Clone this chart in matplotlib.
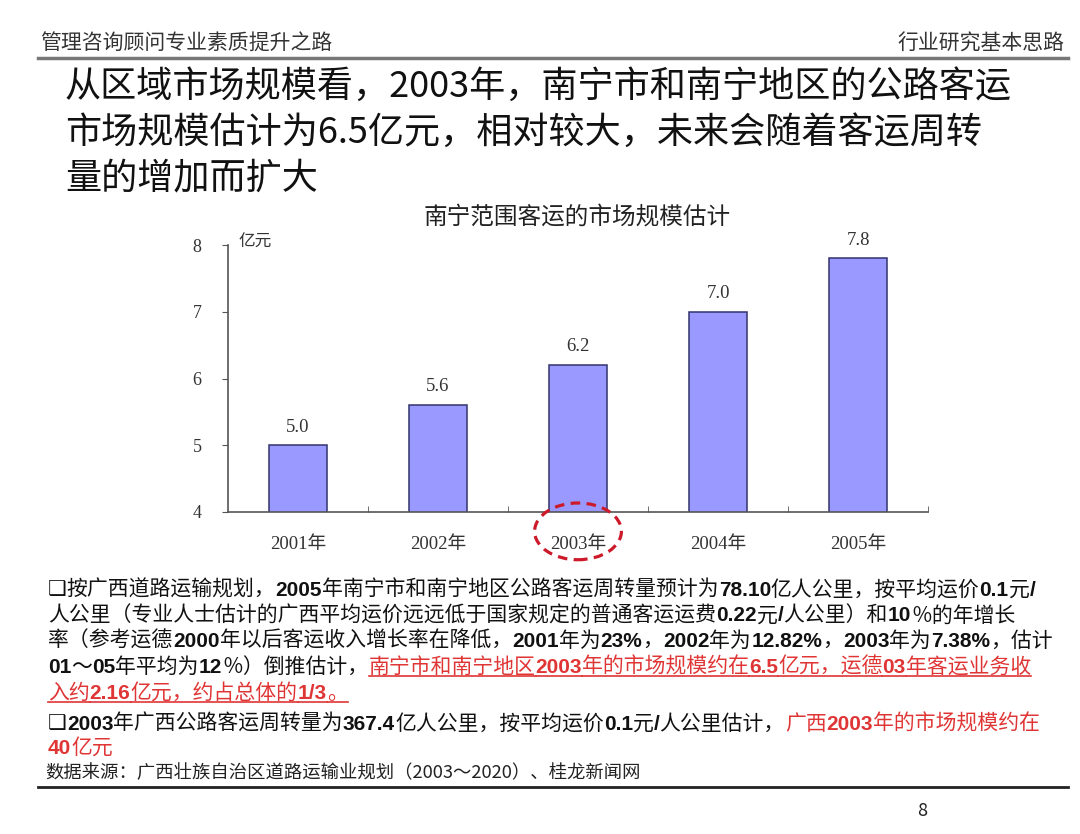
import matplotlib
matplotlib.use("Agg")
import matplotlib.pyplot as plt
from matplotlib.patches import Ellipse
from matplotlib.lines import Line2D

plt.rcParams['font.family'] = ['Noto Sans CJK SC', 'DejaVu Sans']

# data
years = ['2001年', '2002年', '2003年', '2004年', '2005年']
values = [5.0, 5.6, 6.2, 7.0, 7.8]
y_ticks = [4, 5, 6, 7, 8]

header_left = '管理咨询顾问专业素质提升之路'
header_right = '行业研究基本思路'
title_lines = ['从区域市场规模看，2003年，南宁市和南宁地区的公路客运',
               '市场规模估计为6.5亿元，相对较大，未来会随着客运周转',
               '量的增加而扩大']
chart_title = '南宁范围客运的市场规模估计'
unit = '亿元'
source = '数据来源：广西壮族自治区道路运输业规划（2003～2020）、桂龙新闻网'
page_no = '8'

# text runs: (text, style) ; n=normal, b=bold number, r=red, u=underline, box=bullet
bullet1 = [
    [('❑', 'box'), ('按广西道路运输规划，', 'n'), ('2005', 'b'), ('年南宁市和南宁地区公路客运周转量预计为', 'n'),
     ('78.10', 'b'), ('亿人公里，按平均运价', 'n'), ('0.1', 'b'), ('元', 'n'), ('/', 'b')],
    [('人公里（专业人士估计的广西平均运价远远低于国家规定的普通客运运费', 'n'), ('0.22', 'b'), ('元', 'n'),
     ('/', 'b'), ('人公里）和', 'n'), ('10', 'b'), ('％的年增长', 'n')],
    [('率（参考运德', 'n'), ('2000', 'b'), ('年以后客运收入增长率在降低，', 'n'), ('2001', 'b'), ('年为', 'n'),
     ('23%', 'b'), ('，', 'n'), ('2002', 'b'), ('年为', 'n'), ('12.82%', 'b'), ('，', 'n'), ('2003', 'b'),
     ('年为', 'n'), ('7.38%', 'b'), ('，估计', 'n')],
    [('01', 'b'), ('～', 'n'), ('05', 'b'), ('年平均为', 'n'), ('12', 'b'), ('％）倒推估计，', 'n'),
     ('南宁市和南宁地区', 'ru'), ('2003', 'rbu'), ('年的市场规模约在', 'ru'), ('6.5', 'rbu'),
     ('亿元，运德', 'ru'), ('03', 'rbu'), ('年客运业务收', 'ru')],
    [('入约', 'ru'), ('2.16', 'rbu'), ('亿元，约占总体的', 'ru'), ('1/3', 'rbu'), ('。', 'ru')],
]
bullet2 = [
    [('❑', 'box'), ('2003', 'b'), ('年广西公路客运周转量为', 'n'), ('367.4', 'b'), ('亿人公里，按平均运价', 'n'),
     ('0.1', 'b'), ('元', 'n'), ('/', 'b'), ('人公里估计，', 'n'), ('广西', 'r'), ('2003', 'rb'),
     ('年的市场规模约在', 'r')],
    [('40', 'rb'), ('亿元', 'r')],
]

W, H = 1080, 834
RED = '#E03535'
BLACK = '#111111'
SERIF = ['Liberation Serif', 'Noto Sans CJK SC']
NUM = ['Liberation Sans Narrow', 'Liberation Sans', 'Noto Sans CJK SC']

fig = plt.figure(figsize=(W / 100, H / 100), dpi=100)
renderer = fig.canvas.get_renderer()


def fx(px):
    return px / W


def fy(py):
    return 1 - py / H


# header
fig.text(fx(40), fy(44), header_left, fontsize=15, color='#333333', va='center', ha='left')
fig.text(fx(1064), fy(44), header_right, fontsize=15, color='#333333', va='center', ha='right')
fig.add_artist(Line2D([fx(38), fx(1068)], [fy(58), fy(58)], color='#777777', lw=2.5))

# title
for i, line in enumerate(title_lines):
    fig.text(fx(65), fy(87 + i * 45.5), line, fontsize=26, color='#111111', va='center', ha='left')

# chart
ax = fig.add_axes([fx(228), fy(512), 700 / W, 267 / H])
xs = list(range(len(years)))
ax.bar(xs, values, width=0.41, color='#9999FF', edgecolor='#33336E', linewidth=1.1, zorder=2)
ax.set_xlim(-0.5, len(years) - 0.5)
ax.set_ylim(4, 8)
for s in ['top', 'right']:
    ax.spines[s].set_visible(False)
for s in ['left', 'bottom']:
    ax.spines[s].set_color('#555555')
    ax.spines[s].set_linewidth(1.2)
ax.set_yticks(y_ticks)
ax.set_yticklabels([str(v) for v in y_ticks], family=SERIF, fontsize=13, color='#333333')
ax.tick_params(axis='y', direction='out', length=4, pad=15, color='#555555')
ax.set_xticks(xs)
ax.set_xticklabels(years, family=SERIF, fontsize=13.5, color='#333333')
ax.tick_params(axis='x', which='major', length=0, pad=17)
ax.set_xticks([v + 0.5 for v in xs], minor=True)
ax.tick_params(axis='x', which='minor', direction='in', length=4, color='#555555')

for x, v in zip(xs, values):
    ax.annotate(f'{v:.1f}', (x, v), xytext=(0, 7), textcoords='offset points',
                ha='center', va='bottom', family=SERIF, fontsize=13.5, color='#333333')

ax.add_patch(Ellipse((2, 3.71), 0.62, 0.85, fill=False, ec='#CC1A2A', lw=2.3,
                     ls=(0, (3, 2)), clip_on=False, zorder=5))

fig.text(fx(577), fy(217), chart_title, fontsize=17, color='#222222', ha='center', va='center')
fig.text(fx(238), fy(242), unit, fontsize=12, color='#333333', ha='left', va='center')


def draw_runs(runs, x0, yc, size):
    x = x0
    base = yc + size * 100 / 72 * 0.36
    for s, st in runs:
        color = RED if 'r' in st else BLACK
        if st == 'box':
            fam, wt = ['DejaVu Sans'], 'normal'
        elif 'b' in st:
            fam, wt = NUM, 'bold'
        else:
            fam, wt = ['Noto Sans CJK SC', 'DejaVu Sans'], 'normal'
        t = fig.text(fx(x), fy(base), s, fontsize=size, color=color, family=fam,
                     fontweight=wt, ha='left', va='baseline')
        bb = t.get_window_extent(renderer)
        if 'u' in st:
            fig.add_artist(Line2D([fx(x), fx(x + bb.width)], [fy(base + 3), fy(base + 3)],
                                  color=RED, lw=1.2))
        x += bb.width


for i, line in enumerate(bullet1):
    draw_runs(line, 48, 588 + i * 25.8, 15)
for i, line in enumerate(bullet2):
    draw_runs(line, 48, 722 + i * 24.5, 15)

fig.text(fx(45), fy(773), source, fontsize=13.2, color='#222222', ha='left', va='center')
fig.add_artist(Line2D([fx(38), fx(1068)], [fy(787), fy(787)], color='#222222', lw=2))
fig.text(fx(922), fy(811), page_no, fontsize=13, color='#222222', ha='center', va='center')

fig.savefig('out.png', dpi=100)
